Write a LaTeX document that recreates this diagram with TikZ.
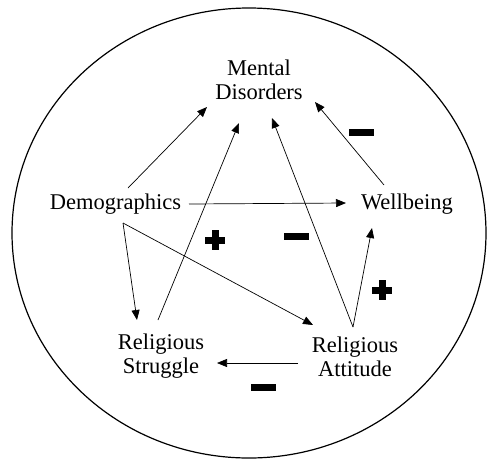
\documentclass[tikz,border=0pt]{standalone}
\usepackage{fontspec}
\setmainfont{Liberation Serif}
\usetikzlibrary{arrows.meta}
\begin{document}
\begin{tikzpicture}[x=1pt,y=-1pt,
  lbl/.style={font=\fontsize{22.5}{24}\selectfont, align=center, inner sep=0pt},
  arr/.style={-{Triangle[length=10pt,width=8pt]}, line width=0.7pt},
  signbox/.style={fill=black, draw=none}]
\useasboundingbox (0,0) rectangle (488,459);
\draw[line width=1.2pt] (249,233) ellipse [x radius=237, y radius=225];
% labels (anchored at baseline of last line)
\node[lbl, anchor=base] (mental) at (259,99) {Mental\\Disorders};
\node[lbl, anchor=base] (demo) at (115.5,209) {Demographics};
\node[lbl, anchor=base] (well) at (407,209) {Wellbeing};
\node[lbl, anchor=base] (struggle) at (161,373) {Religious\\Struggle};
\node[lbl, anchor=base] (attitude) at (355,376) {Religious\\Attitude};
% connector endpoints
\coordinate (dA) at (128,188);
\coordinate (mA) at (207,107);
\coordinate (dB) at (189,204);
\coordinate (wB) at (346,203);
\coordinate (dC) at (123,223);
\coordinate (sC) at (137,320);
\coordinate (aD) at (313,325);
\coordinate (sE) at (158,320);
\coordinate (mE) at (239,123);
\coordinate (aF) at (353,327);
\coordinate (mF) at (272,118);
\coordinate (wG) at (372,228);
\coordinate (wH) at (384,185);
\coordinate (mH) at (315,102);
\coordinate (aI) at (298,363);
\coordinate (sI) at (217,363);
% connectors
\draw[arr] (dA) -- (mA);
\draw[arr] (dB) -- (wB);
\draw[arr] (dC) -- (sC);
\draw[arr] (dC) -- (aD);
\draw[arr] (sE) -- (mE);
\draw[arr] (aF) -- (mF);
\draw[arr] (aF) -- (wG);
\draw[arr] (wH) -- (mH);
\draw[arr] (aI) -- (sI);
% signs
\fill[signbox] (348.5,128.5) rectangle (373.5,135.5);
\fill[signbox] (283.5,232.5) rectangle (308.5,239.5);
\fill[signbox] (250.5,383.5) rectangle (275.5,390.5);
\fill[signbox] (205,236.5) rectangle (225,243.5);
\fill[signbox] (211.5,230) rectangle (218.5,250);
\fill[signbox] (372,286.5) rectangle (392,293.5);
\fill[signbox] (378.5,280) rectangle (385.5,300);
\end{tikzpicture}
\end{document}
